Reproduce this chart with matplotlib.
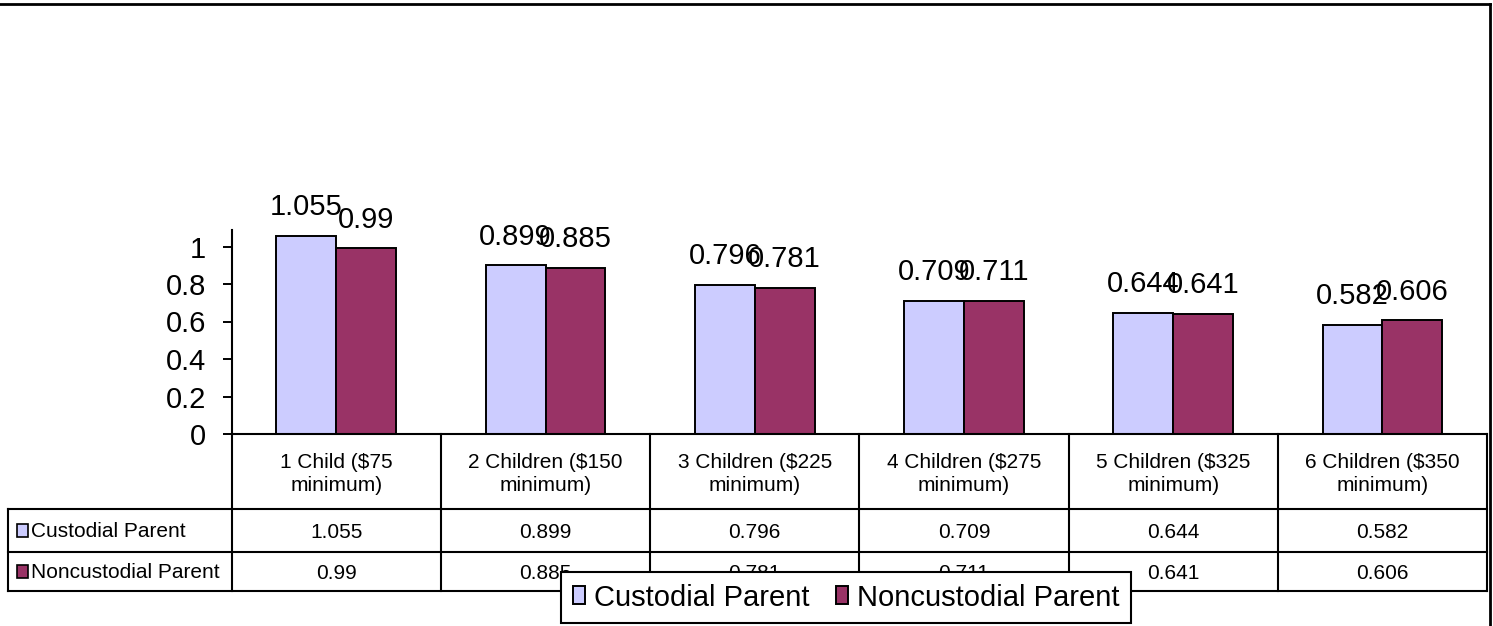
import numpy as np
import matplotlib
matplotlib.use("Agg")
import matplotlib.pyplot as plt
from matplotlib.patches import Rectangle
from matplotlib.transforms import Affine2D, blended_transform_factory

plt.rcParams['font.family'] = ['Liberation Sans', 'DejaVu Sans']

# categories and the two series
categories = ['1 Child ($75\nminimum)', '2 Children ($150\nminimum)',
              '3 Children ($225\nminimum)', '4 Children ($275\nminimum)',
              '5 Children ($325\nminimum)', '6 Children ($350\nminimum)']
series_names = ['Custodial Parent', 'Noncustodial Parent']
custodial = [1.055, 0.899, 0.796, 0.709, 0.644, 0.582]
noncustodial = [0.99, 0.885, 0.781, 0.711, 0.641, 0.606]
colors = ['#CCCCFF', '#993366']

W, H = 1493, 626
fig = plt.figure(figsize=(W / 100, H / 100), dpi=100)
# pixel coordinates measured from the top left corner
pix = Affine2D().scale(1 / W, -1 / H).translate(0, 1) + fig.transFigure

ax = fig.add_axes([231.7 / W, (H - 434) / H, (1487 - 231.7) / W, (434 - 230) / H])
x = np.arange(len(categories))
bw = 0.286
values = [custodial, noncustodial]
handles = []
for i, vals in enumerate(values):
    pos = x + (i - 0.5) * bw
    b = ax.bar(pos, vals, width=bw, color=colors[i], edgecolor='black', linewidth=1.4)
    handles.append(b)
    for px_, v in zip(pos, vals):
        ax.annotate(f'{v:g}', xy=(px_, v), xytext=(0, 15), textcoords='offset points',
                    ha='center', va='baseline', fontsize=21)

ax.set_xlim(-0.5, len(categories) - 0.5)
ax.set_ylim(0, 1.088)
ax.set_yticks([0, 0.2, 0.4, 0.6, 0.8, 1.0])
ax.set_yticklabels(['0', '0.2', '0.4', '0.6', '0.8', '1'])
ax.tick_params(axis='y', length=6.5, width=1.4, pad=12, labelsize=21)
ax.set_xticks([])
for s in ['top', 'right']:
    ax.spines[s].set_visible(False)
ax.spines['left'].set_linewidth(1.5)
ax.spines['bottom'].set_linewidth(1.5)

# data table under the plot
tx = blended_transform_factory(ax.transData, pix)
lw = 1.5
rows_y = [434, 509, 552, 591]
for yy in rows_y[1:]:
    fig.add_artist(plt.Line2D([8, 1487], [yy, yy], transform=pix, color='black', lw=lw))
fig.add_artist(plt.Line2D([8, 8], [509, 591], transform=pix, color='black', lw=lw))
for k in range(len(categories) + 1):
    fig.add_artist(plt.Line2D([k - 0.5, k - 0.5], [434, 591], transform=tx,
                              color='black', lw=lw, clip_on=False))
for k, cat in enumerate(categories):
    fig.text(k, 474, cat, transform=tx, ha='center', va='center', fontsize=15,
             linespacing=1.25)
    for r, vals in enumerate(values):
        yc = (rows_y[r + 1] + rows_y[r + 2]) / 2 + 2
        fig.text(k, yc, f'{vals[k]:g}', transform=tx, ha='center', va='center', fontsize=15)
for r, name in enumerate(series_names):
    yc = (rows_y[r + 1] + rows_y[r + 2]) / 2
    fig.add_artist(Rectangle((17, yc - 7), 11, 13, transform=pix, facecolor=colors[r],
                             edgecolor='black', lw=1.2))
    fig.text(31, yc + 1, name, transform=pix, ha='left', va='center', fontsize=15)

# outer chart frame
fig.add_artist(plt.Line2D([0, 1490], [4, 4], transform=pix, color='black', lw=2))
fig.add_artist(plt.Line2D([1490, 1490], [4, 626], transform=pix, color='black', lw=2))

leg = fig.legend(handles, series_names, ncol=2, loc='center',
                 bbox_to_anchor=(846 / W, 1 - 597.5 / H), fontsize=21,
                 frameon=True, fancybox=False, edgecolor='black', framealpha=1,
                 handlelength=0.42, handleheight=0.6, handletextpad=0.3,
                 columnspacing=0.9, borderpad=0.4, borderaxespad=0)
leg.get_frame().set_linewidth(1.5)
leg.set_zorder(10)

fig.savefig('out.png', dpi=100)
